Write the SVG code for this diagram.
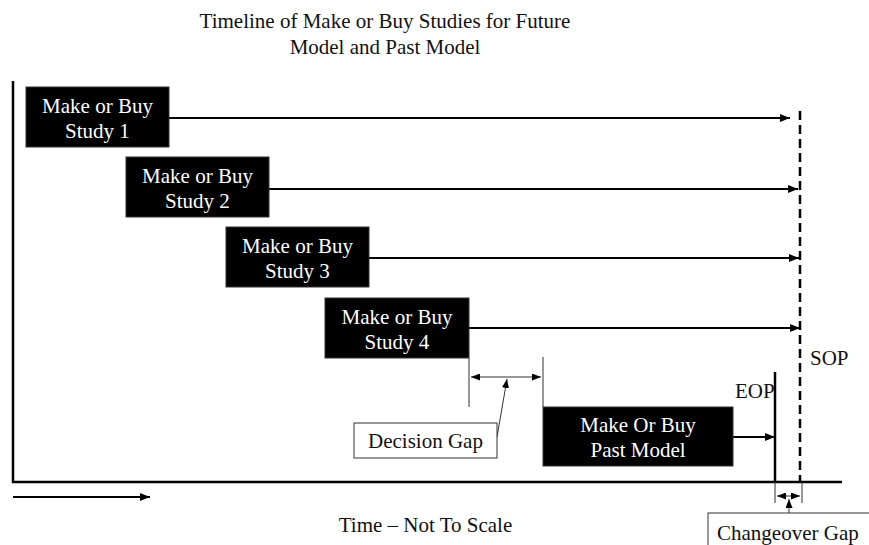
<svg xmlns="http://www.w3.org/2000/svg" width="869" height="545" viewBox="0 0 869 545">
<style>
text{font-family:"Liberation Serif","Times New Roman",serif;font-size:21px;fill:#111}
.box{fill:#000;stroke:#333;stroke-width:1}
.bt{fill:#fff;text-anchor:middle}
.lbl{fill:#fff;stroke:#333;stroke-width:1}
.ax{stroke:#000;stroke-width:2.5;fill:none}
.ar{stroke:#000;stroke-width:2;fill:none}
.thin{stroke:#333;stroke-width:1;fill:none}
</style>
<defs>
<marker id="ah" viewBox="0 0 10 8" refX="10" refY="4" markerWidth="10" markerHeight="8" markerUnits="userSpaceOnUse" orient="auto"><path d="M0,0 L10,4 L0,8 z" fill="#000"/></marker>
<marker id="sh" viewBox="0 0 9 7" refX="9" refY="3.5" markerWidth="9" markerHeight="7" markerUnits="userSpaceOnUse" orient="auto-start-reverse"><path d="M0,0 L9,3.5 L0,7 z" fill="#000"/></marker>
</defs>
<g id="title">
<text x="385" y="28" text-anchor="middle">Timeline of Make or Buy Studies for Future</text>
<text x="385" y="54" text-anchor="middle">Model and Past Model</text>
</g>
<g id="connectors">
<path class="ax" d="M13,81 V482 H842"/>
<path class="ar" d="M13,497 H150" marker-end="url(#ah)"/>
<path class="ar" d="M169,118 H790" marker-end="url(#ah)"/>
<path class="ar" d="M269,189 H798" marker-end="url(#ah)"/>
<path class="ar" d="M369,258 H799" marker-end="url(#ah)"/>
<path class="ar" d="M469,328 H800" marker-end="url(#ah)"/>
<path d="M800,111 V482" stroke="#000" stroke-width="2.5" stroke-dasharray="9,5" fill="none"/>
<path class="ar" d="M733,437 H775" marker-end="url(#ah)"/>
<path d="M775,372 V482" stroke="#000" stroke-width="2.5"/>
<path class="thin" d="M469,358 V407 M543,357 V407"/>
<path class="thin" d="M471,377 H541" marker-start="url(#sh)" marker-end="url(#sh)"/>
<path class="thin" d="M497,437 L507,379" marker-end="url(#sh)"/>
<path class="thin" d="M775,482 V503 M802,482 V503"/>
<path class="thin" d="M777,496 H800" marker-start="url(#sh)" marker-end="url(#sh)"/>
<path class="thin" d="M789,513 V499" marker-end="url(#sh)"/>
</g>
<g id="study1"><rect class="box" x="26" y="87" width="143" height="60"/><text class="bt" x="97.5" y="113">Make or Buy</text><text class="bt" x="97.5" y="138">Study 1</text></g>
<g id="study2"><rect class="box" x="126" y="157" width="143" height="60"/><text class="bt" x="197.5" y="183">Make or Buy</text><text class="bt" x="197.5" y="208">Study 2</text></g>
<g id="study3"><rect class="box" x="226" y="227" width="143" height="60"/><text class="bt" x="297.5" y="253">Make or Buy</text><text class="bt" x="297.5" y="278">Study 3</text></g>
<g id="study4"><rect class="box" x="325" y="298" width="144" height="60"/><text class="bt" x="397" y="324">Make or Buy</text><text class="bt" x="397" y="349">Study 4</text></g>
<g id="past"><rect class="box" x="543" y="407" width="190" height="59"/><text class="bt" x="638" y="432">Make Or Buy</text><text class="bt" x="638" y="457">Past Model</text></g>
<g id="decision"><rect class="lbl" x="354" y="423" width="143" height="35"/><text x="425.5" y="448" text-anchor="middle">Decision Gap</text></g>
<g id="changeover"><rect class="lbl" x="708" y="513" width="170" height="40"/><text x="717" y="540">Changeover Gap</text></g>
<g id="labels">
<text x="735" y="398">EOP</text>
<text x="810" y="365">SOP</text>
<text x="425.5" y="532" text-anchor="middle">Time – Not To Scale</text>
</g>
</svg>
